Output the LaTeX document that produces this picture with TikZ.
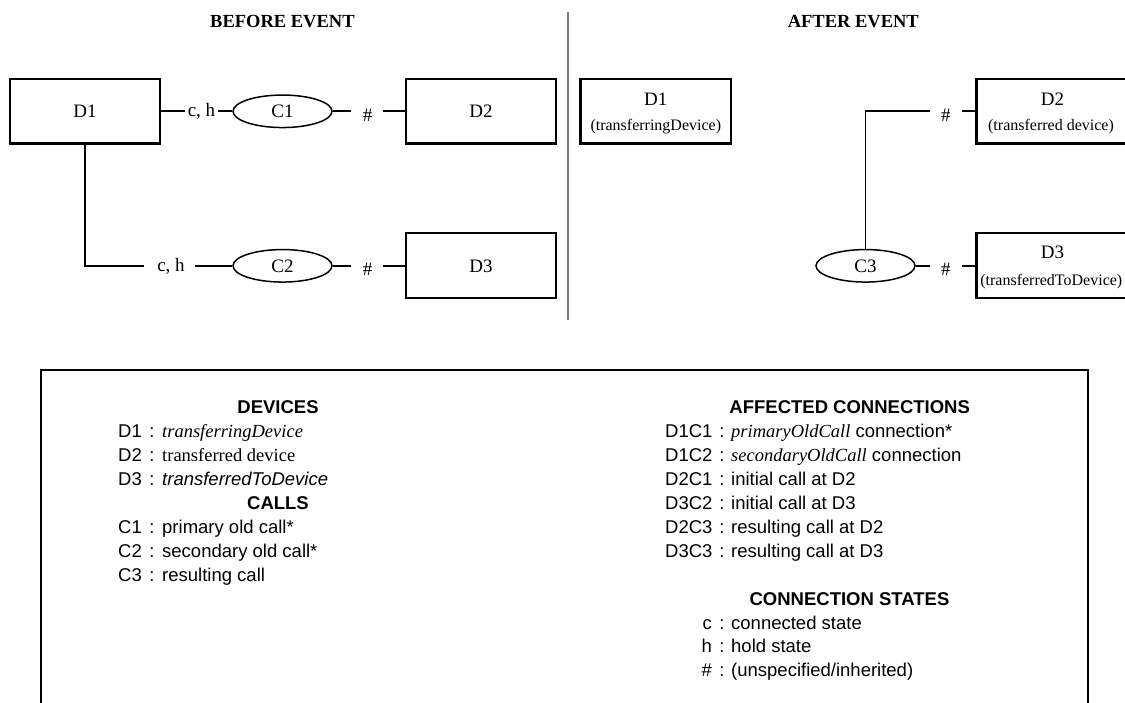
\documentclass[tikz,border=0pt]{standalone}
\usepackage{fontspec}
\setmainfont{Liberation Serif}
\setsansfont{Liberation Sans}
\usetikzlibrary{shapes.geometric}
\newcommand\mylegf{\sffamily\fontsize{18.5}{22}\selectfont}
\newcommand\mylegbf{\sffamily\bfseries\fontsize{18.5}{22}\selectfont}
\newcommand\mydiagf{\rmfamily\fontsize{19}{22}\selectfont}
\newcommand\mysubf{\rmfamily\fontsize{16}{19}\selectfont}
\newcommand\mytitf{\rmfamily\bfseries\fontsize{18.5}{22}\selectfont}
\definecolor{divgray}{HTML}{808080}
\tikzset{
  devbox/.style={draw, rectangle, line width=2.2pt, minimum width=150.5pt, minimum height=64.5pt, inner sep=0pt, font=\mydiagf},
  callbox/.style={draw, ellipse, line width=1.5pt, minimum width=99pt, minimum height=32.5pt, inner sep=0pt, font=\mydiagf},
  conn/.style={line width=1.8pt},
  clab/.style={anchor=base, inner sep=0pt, font=\mydiagf},
  sublab/.style={anchor=base, inner sep=0pt, font=\mysubf},
  tit/.style={anchor=base, inner sep=0pt, font=\mytitf},
  lk/.style={anchor=base west, inner sep=0pt, font=\mylegf},
  lke/.style={anchor=base east, inner sep=0pt, font=\mylegf},
  lc/.style={anchor=base, inner sep=0pt, font=\mylegf},
  lt/.style={anchor=base west, inner sep=0pt, font=\mylegf},
  lh/.style={anchor=base, inner sep=0pt, font=\mylegbf},
}
\begin{document}
\begin{tikzpicture}[x=1pt, y=-1pt]
\clip (0,0) rectangle (1125,702);
\useasboundingbox (0,0) rectangle (1125,702);

% titles and divider
\node[tit] (tb) at (282.4,27.3) {BEFORE EVENT};
\node[tit] (ta) at (853.3,27.3) {AFTER EVENT};
\draw[divgray, line width=2pt] (568,12) -- (568,320);

% ---------- BEFORE ----------
\node[devbox] (D1) at (85,111.3) {D1};
\node[devbox] (D2) at (481,111.3) {D2};
\node[devbox, minimum height=65pt] (D3) at (481,265.8) {D3};
\node[callbox] (C1) at (282.5,111.3) {C1};
\node[callbox] (C2) at (282.5,265.8) {C2};

\node[clab] (ch1) at (201.5,116.5) {c, h};
\node[clab] (ch2) at (171,271) {c, h};
\node[clab] (hs1) at (367.7,121) {\#};
\node[clab] (hs2) at (367.7,275.5) {\#};

\coordinate (t1a) at (185,111.3);
\coordinate (t1b) at (218,111.3);
\coordinate (t1c) at (351,111.3);
\coordinate (t1d) at (383,111.3);
\coordinate (b1a) at (144,265.8);
\coordinate (b1b) at (195,265.8);
\coordinate (b1c) at (351,265.8);
\coordinate (b1d) at (383,265.8);

\draw[conn] (D1.east) -- (t1a);
\draw[conn] (t1b) -- (C1.west);
\draw[conn] (C1.east) -- (t1c);
\draw[conn] (t1d) -- (D2.west);
\draw[conn] (D1.south) |- (b1a);
\draw[conn] (b1b) -- (C2.west);
\draw[conn] (C2.east) -- (b1c);
\draw[conn] (b1d) -- (D3.west);

% ---------- AFTER ----------
\node[devbox] (D1a) at (655.8,111.3) {};
\node[devbox] (D2a) at (1051.8,111.3) {};
\node[devbox, minimum height=65pt] (D3a) at (1051.8,265.8) {};
\node[callbox] (C3) at (865.5,265.8) {C3};

\node[clab] (D1at) at (655.8,105) {D1};
\node[sublab] (D1as) at (655.8,130) {(transferringDevice)};
\node[clab] (D2at) at (1052.5,105) {D2};
\node[sublab] (D2as) at (1051,130) {(transferred device)};
\node[clab] (D3at) at (1052.5,258) {D3};
\node[sublab] (D3as) at (1051.3,285.5) {(transferredToDevice)};

\node[clab] (hs3) at (945.8,121) {\#};
\node[clab] (hs4) at (945.8,275.5) {\#};

\coordinate (a1a) at (930,111.3);
\coordinate (a1b) at (962.3,111.3);
\coordinate (a2a) at (930,265.8);
\coordinate (a2b) at (962.3,265.8);

\draw[conn] (C3.north) |- (a1a);
\draw[conn] (a1b) -- (D2a.west);
\draw[conn] (C3.east) -- (a2a);
\draw[conn] (a2b) -- (D3a.west);

% ---------- LEGEND ----------
\draw[line width=2.2pt] (41,710) -- (41,370) -- (1088,370) -- (1088,710);

\node[lh] (hdev) at (278,413.5) {DEVICES};
\node[lk] (k1) at (118,437.5) {D1};
\node[lc] (c1) at (152,437.5) {:};
\node[lt] (v1) at (162,437.5) {\rmfamily\itshape transferringDevice};
\node[lk] (k2) at (118,461) {D2};
\node[lc] (c2) at (152,461) {:};
\node[lt] (v2) at (162,461) {\rmfamily transferred device};
\node[lk] (k3) at (118,485) {D3};
\node[lc] (c3) at (152,485) {:};
\node[lt] (v3) at (162,485) {\itshape transferredToDevice};
\node[lh] (hcal) at (278,509) {CALLS};
\node[lk] (k4) at (118,533) {C1};
\node[lc] (c4) at (152,533) {:};
\node[lt] (v4) at (162,533) {primary old call*};
\node[lk] (k5) at (118,557) {C2};
\node[lc] (c5) at (152,557) {:};
\node[lt] (v5) at (162,557) {secondary old call*};
\node[lk] (k6) at (118,581.5) {C3};
\node[lc] (c6) at (152,581.5) {:};
\node[lt] (v6) at (162,581.5) {resulting call};

\node[lh] (haff) at (849.7,413.5) {AFFECTED CONNECTIONS};
\node[lk] (r1) at (665,437.5) {D1C1};
\node[lc] (rc1) at (722,437.5) {:};
\node[lt] (rv1) at (731,437.5) {{\rmfamily\itshape primaryOldCall} connection*};
\node[lk] (r2) at (665,461) {D1C2};
\node[lc] (rc2) at (722,461) {:};
\node[lt] (rv2) at (731,461) {{\rmfamily\itshape secondaryOldCall} connection};
\node[lk] (r3) at (665,485) {D2C1};
\node[lc] (rc3) at (722,485) {:};
\node[lt] (rv3) at (731,485) {initial call at D2};
\node[lk] (r4) at (665,509) {D3C2};
\node[lc] (rc4) at (722,509) {:};
\node[lt] (rv4) at (731,509) {initial call at D3};
\node[lk] (r5) at (665,533) {D2C3};
\node[lc] (rc5) at (722,533) {:};
\node[lt] (rv5) at (731,533) {resulting call at D2};
\node[lk] (r6) at (665,557) {D3C3};
\node[lc] (rc6) at (722,557) {:};
\node[lt] (rv6) at (731,557) {resulting call at D3};

\node[lh] (hst) at (849.5,605) {CONNECTION STATES};
\node[lke] (s1) at (712,629.3) {c};
\node[lc] (sc1) at (722,629.3) {:};
\node[lt] (sv1) at (731,629.3) {connected state};
\node[lke] (s2) at (712,652.7) {h};
\node[lc] (sc2) at (722,652.7) {:};
\node[lt] (sv2) at (731,652.7) {hold state};
\node[lke] (s3) at (712,676.7) {\#};
\node[lc] (sc3) at (722,676.7) {:};
\node[lt] (sv3) at (731,676.7) {(unspecified/inherited)};
\end{tikzpicture}
\end{document}
